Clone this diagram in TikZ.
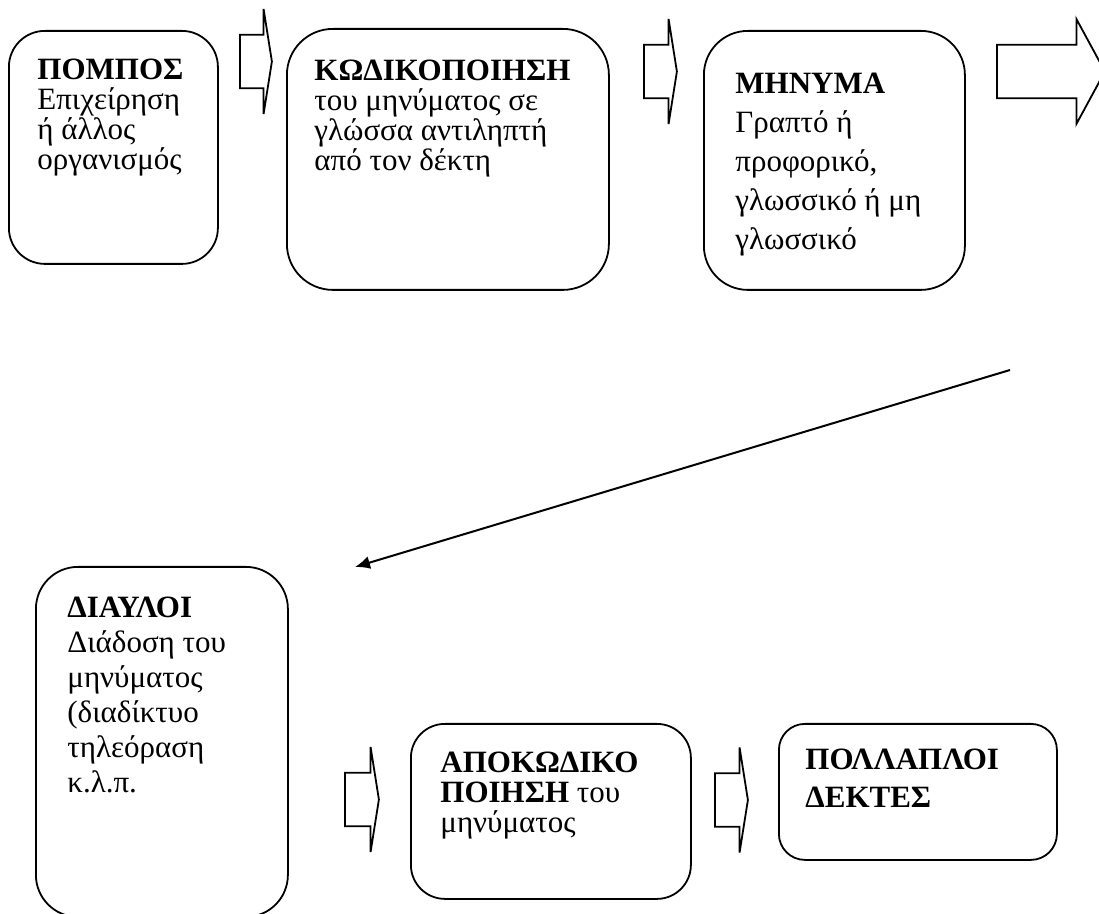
\documentclass[tikz,border=0pt]{standalone}
\usepackage{fontspec}
\setmainfont{Liberation Serif}
\usetikzlibrary{arrows.meta,calc,shapes.arrows}
\lineskiplimit=-\maxdimen

\begin{document}
\begin{tikzpicture}[
  x=0.5pt,y=-0.5pt,
  box/.style={draw,line width=0.9pt,anchor=north west,inner sep=0pt},
  txt/.style={anchor=north west,align=left,inner sep=0pt},
  blockarrow/.style={single arrow,draw,line width=0.9pt,inner sep=0pt,inner ysep=12.9pt,
    minimum width=0pt,single arrow head extend=12.9pt,single arrow tip angle=162,anchor=tail},
  flow/.style={-{Latex[length=7.5pt,width=6.5pt]},line width=1pt},
]
  \useasboundingbox (0,0) rectangle (1099,914);

  \node[box,minimum width=104.5pt,minimum height=116.5pt,rounded corners=18pt] (pompos) at (8,30) {};
  \node[box,minimum width=161pt,minimum height=130.5pt,rounded corners=23pt] (kodik) at (286,28) {};
  \node[box,minimum width=130.5pt,minimum height=129.5pt,rounded corners=22pt] (minima) at (703,30) {};
  \node[box,minimum width=126pt,minimum height=175pt,rounded corners=21pt] (diavloi) at (35,566) {};
  \node[box,minimum width=140pt,minimum height=87.5pt,rounded corners=17pt] (apokod) at (410,723) {};
  \node[box,minimum width=139pt,minimum height=68pt,rounded corners=13pt] (dektes) at (778,723) {};

  \node[txt,font=\fontsize{15.5}{15}\selectfont] (pompos-txt) at ($(pompos.north west)+(29,28.5)$)
    {\textbf{ΠΟΜΠΟΣ}\\Επιχείρηση\\ή άλλος\\οργανισμός};
  \node[txt,font=\fontsize{15.5}{15}\selectfont] (kodik-txt) at ($(kodik.north west)+(28,31.5)$)
    {\textbf{ΚΩΔΙΚΟΠΟΙΗΣΗ}\\του μηνύματος σε\\γλώσσα αντιληπτή\\από τον δέκτη};
  \node[txt,font=\fontsize{15.5}{19.5}\selectfont] (minima-txt) at ($(minima.north west)+(32,43)$)
    {\textbf{ΜΗΝΥΜΑ}\\Γραπτό ή\\προφορικό,\\γλωσσικό ή μη\\γλωσσικό};
  \node[txt,font=\fontsize{15.5}{17.5}\selectfont] (diavloi-txt) at ($(diavloi.north west)+(32,30.5)$)
    {\textbf{ΔΙΑΥΛΟΙ}\\Διάδοση του\\μηνύματος\\(διαδίκτυο\\τηλεόραση\\κ.λ.π.};
  \node[txt,font=\fontsize{15.5}{15}\selectfont] (apokod-txt) at ($(apokod.north west)+(30,29)$)
    {\textbf{ΑΠΟΚΩΔΙΚΟ}\\\textbf{ΠΟΙΗΣΗ} του\\μηνύματος};
  \node[txt,font=\fontsize{15.5}{19}\selectfont] (dektes-txt) at ($(dektes.north west)+(27,25.5)$)
    {\textbf{ΠΟΛΛΑΠΛΟΙ}\\\textbf{ΔΕΚΤΕΣ}};

  \node[blockarrow,minimum height=16pt] (arr-pompos) at (239,61.5) {};
  \node[blockarrow,minimum height=16.5pt] (arr-kodik) at (643,71.5) {};
  \node[blockarrow,minimum height=54pt,single arrow tip angle=123] (arr-minima) at (996,71.5) {};
  \node[blockarrow,minimum height=17pt] (arr-diavloi) at (344,799.5) {};
  \node[blockarrow,minimum height=16.5pt] (arr-apokod) at (714,800) {};

  \coordinate (diag-start) at (1010,370);
  \coordinate (diag-end) at (355,567);
  \draw[flow] (diag-start) -- (diag-end);
\end{tikzpicture}
\end{document}
